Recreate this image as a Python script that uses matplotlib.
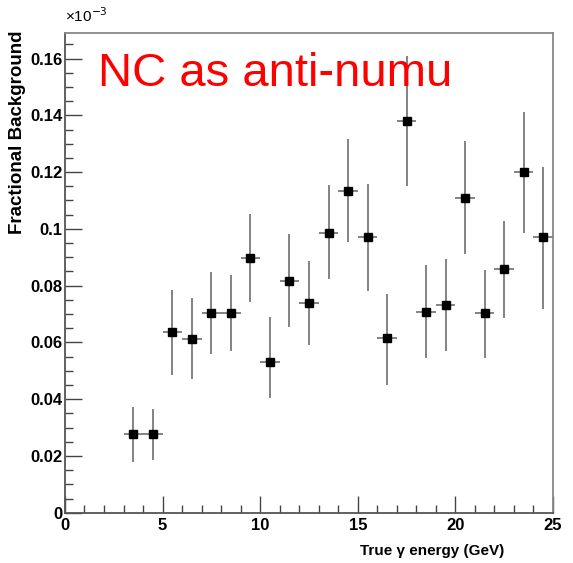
import numpy as np
import matplotlib
matplotlib.use('Agg')
import matplotlib.pyplot as plt
from matplotlib.ticker import MultipleLocator, FixedLocator

plt.rcParams['font.family'] = ['Liberation Sans', 'DejaVu Sans']

# bin centres (GeV) and fractional background (x1e-3)
energy = [3.5, 4.5, 5.5, 6.5, 7.5, 8.5, 9.5, 10.5, 11.5, 12.5, 13.5,
          14.5, 15.5, 16.5, 17.5, 18.5, 19.5, 20.5, 21.5, 22.5, 23.5, 24.5]
frac = [0.0279, 0.0279, 0.0637, 0.0612, 0.0705, 0.0705, 0.0896, 0.0530,
        0.0817, 0.0740, 0.0987, 0.1134, 0.0970, 0.0614, 0.1380, 0.0706,
        0.0732, 0.1110, 0.0702, 0.0857, 0.1200, 0.0970]
err_low = [0.0099, 0.0094, 0.0153, 0.0141, 0.0146, 0.0137, 0.0153, 0.0127,
           0.0161, 0.0148, 0.0162, 0.0182, 0.0188, 0.0164, 0.0230, 0.0161,
           0.0164, 0.0198, 0.0157, 0.0171, 0.0213, 0.0252]
err_high = [0.0093, 0.0087, 0.0148, 0.0144, 0.0143, 0.0134, 0.0156, 0.0161,
            0.0166, 0.0146, 0.0166, 0.0181, 0.0189, 0.0155, 0.0230, 0.0167,
            0.0162, 0.0200, 0.0154, 0.0172, 0.0210, 0.0247]
bin_half = 0.5

fig = plt.figure(figsize=(5.73, 5.63), dpi=100)
ax = fig.add_axes([0.1134, 0.0893, 0.8517, 0.8521])

ax.errorbar(energy, frac, yerr=[err_low, err_high],
            xerr=bin_half, fmt='none', ecolor='#7a7a7a', elinewidth=1.3, capsize=0)
ax.plot(energy, frac, 's', color='black', markersize=5.5)

ax.set_xlim(0, 25)
ax.set_ylim(0, 0.169)

ax.xaxis.set_major_locator(MultipleLocator(5))
ax.xaxis.set_minor_locator(MultipleLocator(1))
ax.yaxis.set_major_locator(FixedLocator([0, 0.02, 0.04, 0.06, 0.08, 0.1, 0.12, 0.14, 0.16]))
ax.yaxis.set_minor_locator(MultipleLocator(0.005))
ax.set_yticklabels(['0', '0.02', '0.04', '0.06', '0.08', '0.1', '0.12', '0.14', '0.16'])

ax.tick_params(which='both', direction='in', top=False, right=False,
               color='#444444', labelsize=12)
ax.tick_params(which='major', length=12, width=1)
ax.tick_params(which='minor', length=6, width=1)
ax.tick_params(axis='y', pad=2)
for lab in ax.get_xticklabels() + ax.get_yticklabels():
    lab.set_fontweight('bold')

for side in ['left', 'bottom']:
    ax.spines[side].set_color('#555555')
    ax.spines[side].set_linewidth(1.3)
for side in ['top', 'right']:
    ax.spines[side].set_color('#888888')
    ax.spines[side].set_linewidth(1.3)

fig.text(0.031, 0.945, 'Fractional Background', rotation=90, ha='center', va='top',
         fontsize=13.5, fontweight='bold')
fig.text(0.88, 0.008, 'True γ energy (GeV)', ha='right', va='bottom',
         fontsize=11, fontweight='bold')
fig.text(0.113, 0.955, '×10$^{-3}$', ha='left', va='bottom', fontsize=11)

ax.text(0.068, 0.915, 'NC as anti-numu', transform=ax.transAxes, color='#ff0000',
        fontsize=34, ha='left', va='center')

fig.savefig('out.png', dpi=100)
